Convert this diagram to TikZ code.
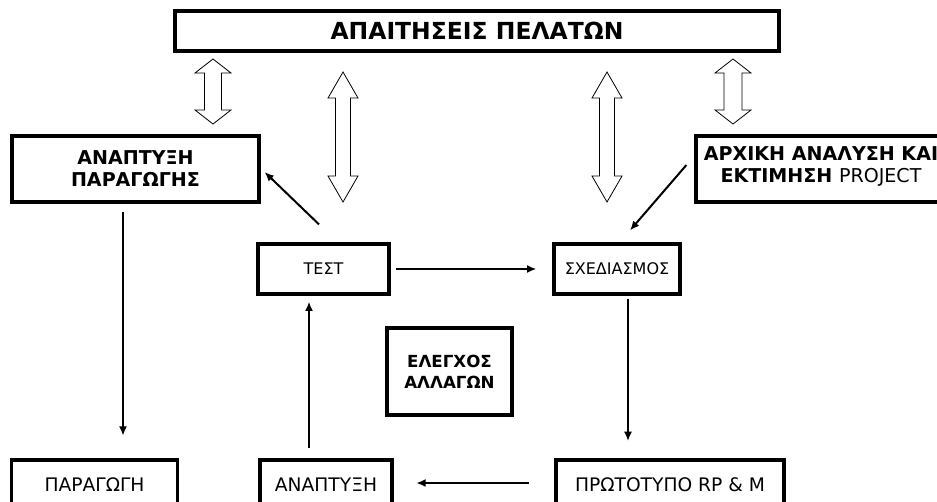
\documentclass[tikz,border=0pt]{standalone}
\usepackage{fontspec}
\setmainfont{DejaVu Sans}
\usetikzlibrary{calc,arrows.meta}
\tikzset{
  box/.style={draw, line width=2.4pt, inner sep=0pt, align=center},
  conn/.style={line width=1.5pt, -{Latex[length=7pt,width=6pt]}},
  blk/.style={draw, line width=0.6pt, fill=white},
  titlef/.style={font=\fontsize{17.6}{20}\selectfont\bfseries},
  boldf/.style={font=\fontsize{14.3}{16.5}\selectfont\bfseries},
  chgf/.style={font=\fontsize{12.5}{15.5}\selectfont\bfseries},
  regf/.style={font=\fontsize{12}{14}\selectfont},
  botf/.style={font=\fontsize{14}{16}\selectfont},
}
\newcommand\blockarrow[6]{% cx, ytop, ybot, head half width, shaft half width, head length
  \draw[blk] (#1,#2) -- ({#1+#4},{#2+#6}) -- ({#1+#5},{#2+#6}) -- ({#1+#5},{#3-#6}) -- ({#1+#4},{#3-#6}) -- (#1,#3)
    -- ({#1-#4},{#3-#6}) -- ({#1-#5},{#3-#6}) -- ({#1-#5},{#2+#6}) -- ({#1-#4},{#2+#6}) -- cycle;}
\begin{document}
\begin{tikzpicture}[x=0.75pt,y=-0.75pt]
\clip (0,0) rectangle (937,502);
\fill[white] (0,0) rectangle (937,502);
% boxes
\node[box, titlef, minimum width=604*0.75pt, minimum height=40*0.75pt] (req) at (477,31) {ΑΠΑΙΤΗΣΕΙΣ ΠΕΛΑΤΩΝ};
\node[box, boldf, minimum width=247*0.75pt, minimum height=66*0.75pt] (app) at (135.5,169) {ΑΝΑΠΤΥΞΗ\\ΠΑΡΑΓΩΓΗΣ};
\node[box, minimum width=250*0.75pt, minimum height=66*0.75pt] (init) at (821,169) {};
\node[boldf, align=center] (initt) at (821,166) {ΑΡΧΙΚΗ ΑΝΑΛΥΣΗ ΚΑΙ\\ΕΚΤΙΜΗΣΗ \mdseries PROJECT};
\node[box, regf, minimum width=131*0.75pt, minimum height=50*0.75pt] (test) at (323.5,269) {ΤΕΣΤ};
\node[box, regf, minimum width=126*0.75pt, minimum height=50*0.75pt] (design) at (617,269) {ΣΧΕΔΙΑΣΜΟΣ};
\node[box, chgf, minimum width=125*0.75pt, minimum height=87*0.75pt] (change) at (449.5,371.5) {ΕΛΕΓΧΟΣ\\ΑΛΛΑΓΩΝ};
\node[box, botf, minimum width=166*0.75pt, minimum height=50*0.75pt] (prod) at (94.5,485) {ΠΑΡΑΓΩΓΗ};
\node[box, botf, minimum width=132*0.75pt, minimum height=50*0.75pt] (dev) at (326,485) {ΑΝΑΠΤΥΞΗ};
\node[box, botf, minimum width=228*0.75pt, minimum height=50*0.75pt] (proto) at (670,485) {ΠΡΩΤΟΤΥΠΟ RP \& M};
% block double arrows
\blockarrow{213}{59}{124}{18}{8.5}{14}
\blockarrow{733}{59}{124}{18}{9}{14}
\blockarrow{343}{72}{202}{15}{7.5}{26}
\blockarrow{607}{72}{202}{15}{7.5}{26}
% connectors
\draw[conn, shorten <=4pt, shorten >=12pt] (test.east) -- (design.west);
\coordinate (dstart) at ($(design.south)+(11,3)$);
\draw[conn, shorten >=13pt] (dstart) -- (dstart |- proto.north);
\draw[conn, shorten <=19pt, shorten >=17pt] (proto.west |- 0,483) -- (dev.east |- 0,483);
\coordinate (ustart) at ($(dev.north)+(-17,-10)$);
\draw[conn, shorten >=4.5pt] (ustart) -- (ustart |- test.south);
\coordinate (pstart) at ($(app.south)+(-12.5,8)$);
\draw[conn, shorten >=17pt] (pstart) -- (pstart |- prod.north);
\draw[conn] ($(test.north)+(-4.5,-18)$) -- ($(app.east)+(4,3)$);
\draw[conn] ($(init.west)+(-8,-4)$) -- ($(design.north)+(13,-12)$);
\end{tikzpicture}
\end{document}
